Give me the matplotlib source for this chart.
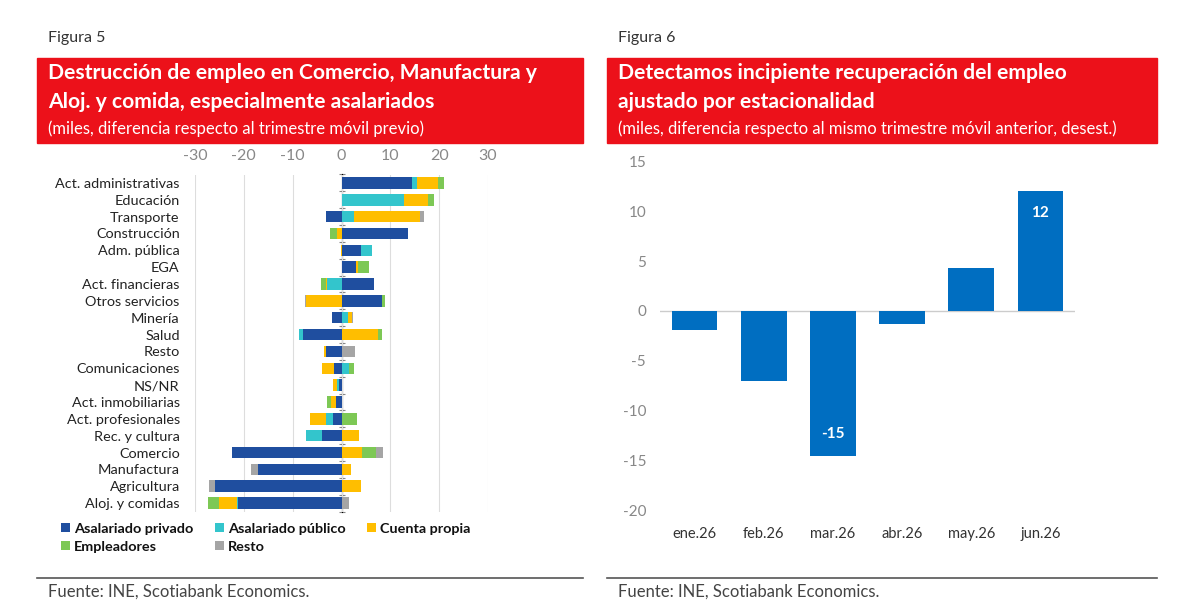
import numpy as np
import matplotlib
matplotlib.use("Agg")
import matplotlib.pyplot as plt
from matplotlib.patches import Rectangle
from matplotlib.lines import Line2D

plt.rcParams['font.family'] = ['Lato', 'DejaVu Sans']
plt.rcParams['axes.unicode_minus'] = False

# ---------------- data ----------------
sectores = ["Act. administrativas", "Educación", "Transporte", "Construcción",
            "Adm. pública", "EGA", "Act. financieras", "Otros servicios", "Minería",
            "Salud", "Resto", "Comunicaciones", "NS/NR", "Act. inmobiliarias",
            "Act. profesionales", "Rec. y cultura", "Comercio", "Manufactura",
            "Agricultura", "Aloj. y comidas"]
asal_privado = [14.5, 0.0, -3.1, 13.7, 3.9, 2.9, 6.7, 8.2, -2.0, -7.8, -3.2, -1.6,
                -0.5, -1.2, -1.8, -4.0, -22.5, -17.0, -26.0, -21.1]
asal_publico = [1.0, 12.9, 2.5, 0.0, 2.4, 0.0, -2.9, 0.0, 1.4, -0.9, 0.0, 1.6,
                -0.5, 0.0, -1.4, -3.2, 0.0, 0.0, 0.0, -0.3]
cuenta_propia = [4.3, 4.8, 13.6, -0.9, -0.2, 0.4, -0.3, -7.3, 0.7, 7.5, -0.4, -2.4,
                 -0.7, -1.0, -3.3, 3.5, 4.1, 2.0, 4.0, -3.6]
empleadores = [1.2, 1.2, 0.0, -1.4, 0.0, 2.3, -0.9, 0.8, 0.0, 0.7, 0.0, 0.9,
               0.0, -0.7, 3.2, 0.0, 2.9, 0.0, 0.0, -2.4]
resto = [0.0, 0.0, 0.7, 0.0, 0.0, 0.0, 0.0, -0.2, 0.3, 0.0, 2.7, 0.0,
         0.0, 0.0, 0.0, 0.0, 1.4, -1.6, -1.1, 1.5]
series_names = ["Asalariado privado", "Asalariado público", "Cuenta propia",
                "Empleadores", "Resto"]
left_xticks = [-30, -20, -10, 0, 10, 20, 30]

meses = ["ene.26", "feb.26", "mar.26", "abr.26", "may.26", "jun.26"]
var_empleo = [-1.9, -7.0, -14.6, -1.35, 4.3, 12.1]
etiquetas = {2: "-15", 5: "12"}
right_yticks = [-20, -15, -10, -5, 0, 5, 10, 15]

# ---------------- style ----------------
colors = ["#1F4E9F", "#33C5CC", "#FFBE00", "#7DC855", "#A5A5A5"]
red = "#EC111A"
bar_blue = "#006EC1"
W, H = 1181, 616
fig = plt.figure(figsize=(W / 100, H / 100), dpi=100)


def fx(px):
    return px / W


def fy(py):
    return 1 - py / H


def header(x0, x1, fig_label, line1, line2, sub):
    fig.text(fx(x0 + 11), fy(38), fig_label, fontsize=11.5, color="#333333",
             va="center", ha="left")
    fig.patches.append(Rectangle((fx(x0), fy(143)), fx(x1 - x0), (143 - 58) / H,
                                 transform=fig.transFigure, color=red, zorder=0))
    fig.text(fx(x0 + 11), fy(73), line1, fontsize=15.2, fontweight="bold",
             color="white", va="center", ha="left")
    fig.text(fx(x0 + 11), fy(102), line2, fontsize=15.2, fontweight="bold",
             color="white", va="center", ha="left")
    fig.text(fx(x0 + 11), fy(129), sub, fontsize=12, color="white",
             va="center", ha="left")
    fig.add_artist(Line2D([fx(x0), fx(x1)], [fy(578), fy(578)],
                          transform=fig.transFigure, color="#555555", lw=1.2))
    fig.text(fx(x0 + 11), fy(592), "Fuente: INE, Scotiabank Economics.",
             fontsize=12, color="#444444", va="center", ha="left")


header(37, 583, "Figura 5",
       "Destrucción de empleo en Comercio, Manufactura y",
       "Aloj. y comida, especialmente asalariados",
       "(miles, diferencia respecto al trimestre móvil previo)")
header(607, 1157, "Figura 6",
       "Detectamos incipiente recuperación del empleo",
       "ajustado por estacionalidad",
       "(miles, diferencia respecto al mismo trimestre móvil anterior, desest.)")

# ---------------- left chart ----------------
axL = fig.add_axes([fx(195), fy(511.5), fx(488 - 195), (511.5 - 174.5) / H])
y = np.arange(len(sectores))
data = [np.array(s, dtype=float) for s in
        [asal_privado, asal_publico, cuenta_propia, empleadores, resto]]
pos_base = np.zeros(len(sectores))
neg_base = np.zeros(len(sectores))
handles = []
for vals, col, name in zip(data, colors, series_names):
    base = np.where(vals >= 0, pos_base, neg_base)
    bc = axL.barh(y, vals, left=base, height=0.68, color=col, label=name,
                  zorder=3)
    handles.append(bc)
    pos_base = pos_base + np.where(vals > 0, vals, 0)
    neg_base = neg_base + np.where(vals < 0, vals, 0)

axL.set_xlim(-30, 30)
axL.set_ylim(len(sectores) - 0.5, -0.5)
axL.set_yticks(y, sectores)
axL.tick_params(axis="y", length=0, labelsize=10.4, colors="#222222", pad=11)
axL.xaxis.tick_top()
axL.set_xticks(left_xticks)
axL.tick_params(axis="x", length=0, labelsize=11.5, colors="#888888", pad=8)
for s in axL.spines.values():
    s.set_visible(False)
axL.grid(axis="x", color="#DDDDDD", lw=0.8, zorder=0)
sec = axL.secondary_yaxis(0.5)
sec.set_yticks(np.arange(len(sectores) + 1) - 0.5, [""] * (len(sectores) + 1))
sec.tick_params(axis="y", length=4, direction="inout", color="#888888")
sec.spines["left"].set_color("#888888")
sec.spines["left"].set_zorder(5)

order = [0, 3, 1, 4, 2]
leg = fig.legend([handles[i] for i in order], [series_names[i] for i in order],
                 ncol=3, loc="upper left", bbox_to_anchor=(fx(61), fy(523)),
                 frameon=False, handlelength=0.6, handleheight=0.6,
                 handletextpad=0.3, columnspacing=1.5, labelspacing=0.4,
                 borderaxespad=0, borderpad=0,
                 prop={"weight": "bold", "size": 10.4})
for t in leg.get_texts():
    t.set_color("#111111")

# ---------------- right chart ----------------
axR = fig.add_axes([fx(660), fy(510), fx(1075 - 660), (510 - 161.7) / H])
x = np.arange(len(meses))
axR.bar(x, var_empleo, width=0.66, color=bar_blue, zorder=3)
axR.axhline(0, color="#CCCCCC", lw=1, zorder=2)
axR.set_xlim(-0.5, len(meses) - 0.5)
axR.set_ylim(-20, 15)
axR.set_yticks(right_yticks)
axR.set_xticks(x, meses)
axR.tick_params(axis="y", length=0, labelsize=11, colors="#888888", pad=10)
axR.tick_params(axis="x", length=0, labelsize=10.5, colors="#333333", pad=12)
for s in axR.spines.values():
    s.set_visible(False)
for i, txt in etiquetas.items():
    v = var_empleo[i]
    off = 16 if v < 0 else -16
    axR.annotate(txt, xy=(i, v), xytext=(0, off), textcoords="offset points",
                 ha="center", va="center", color="white", fontweight="bold",
                 fontsize=11, zorder=4)

fig.savefig("out.png", dpi=100)
